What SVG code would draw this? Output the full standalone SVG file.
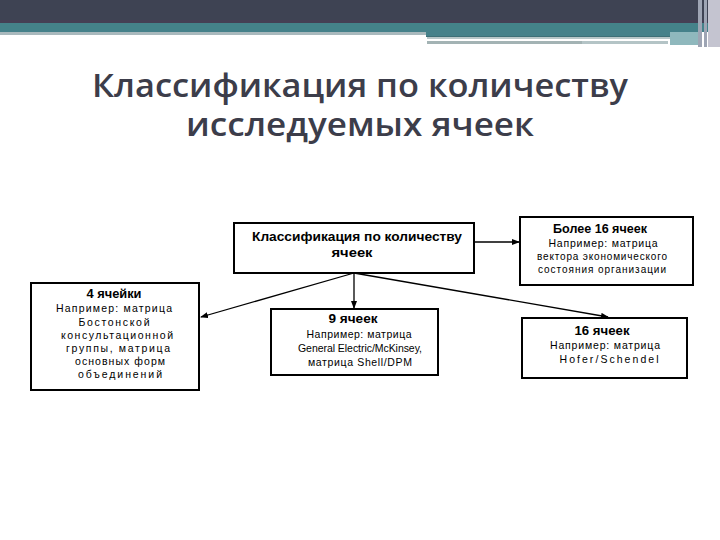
<svg xmlns="http://www.w3.org/2000/svg" width="720" height="540" viewBox="0 0 720 540">
<style>
.box{fill:#fff;stroke:#000;stroke-width:2}
.t{font-family:"Liberation Sans",Arial,sans-serif;font-size:10.5px;fill:#000;text-anchor:middle}
.b{font-family:"Liberation Sans",Arial,sans-serif;font-size:12px;font-weight:bold;fill:#000;text-anchor:middle}
.title{font-family:"Open Sans","DejaVu Sans",sans-serif;font-size:32px;font-weight:600;fill:#3c3d4a;text-anchor:middle}
.c{stroke:#000;stroke-width:1.3;fill:none;marker-end:url(#ah)}
</style>
<defs>
<marker id="ah" markerWidth="8" markerHeight="6" refX="7" refY="3" orient="auto" markerUnits="userSpaceOnUse">
<path d="M0,0 L8,3 L0,6 z" fill="#000"/>
</marker>
</defs>
<rect width="720" height="540" fill="#fff"/>
<g id="header">
<rect x="0" y="0" width="720" height="23" fill="#3e4353"/>
<rect x="0" y="20" width="720" height="3" fill="#453f55"/>
<rect x="0" y="23" width="720" height="9" fill="#45818a"/>
<rect x="0" y="32" width="426" height="3" fill="#a9b9bd"/>
<rect x="426" y="32" width="274" height="4" fill="#45818a"/>
<rect x="426" y="36" width="245" height="1" fill="#3d6f77"/>
<rect x="427" y="37" width="243" height="2" fill="#b7c7c9"/>
<rect x="427" y="41" width="155" height="3" fill="#a3b3b4"/>
<rect x="582" y="41" width="86" height="3" fill="#b4c4c6"/>
<rect x="670" y="32" width="30" height="13" fill="#8fb8bd"/>
<rect x="698" y="0" width="4" height="47" fill="#9ea5b4"/>
<rect x="704" y="0" width="3" height="47" fill="#9ea5b4"/>
<rect x="708" y="0" width="12" height="47" fill="#c4c4d0"/>
</g>
<g id="title">
<text class="title" x="360" y="97" textLength="536" lengthAdjust="spacingAndGlyphs">Классификация по количеству</text>
<text class="title" x="360" y="136" textLength="348" lengthAdjust="spacingAndGlyphs">исследуемых ячеек</text>
</g>
<g id="connectors">
<line class="c" x1="474" y1="242" x2="519" y2="242"/>
<line class="c" x1="354" y1="273" x2="354" y2="308"/>
<line class="c" x1="354" y1="273" x2="201" y2="317"/>
<line class="c" x1="354" y1="273" x2="608" y2="317"/>
</g>
<g id="main">
<rect class="box" x="234" y="223" width="240" height="50"/>
<text class="b" x="357" y="241" textLength="210" lengthAdjust="spacingAndGlyphs">Классификация по количеству</text>
<text class="b" x="352" y="257" textLength="41" lengthAdjust="spacingAndGlyphs">ячеек</text>
</g>
<g id="more16">
<rect class="box" x="520" y="217" width="173" height="68"/>
<text class="b" x="600" y="233" textLength="94" lengthAdjust="spacingAndGlyphs">Более 16 ячеек</text>
<text class="t" x="603" y="247" textLength="109" lengthAdjust="spacing">Например: матрица</text>
<text class="t" x="602" y="260" textLength="130" lengthAdjust="spacing" style="font-size:10px">вектора экономического</text>
<text class="t" x="602" y="273" textLength="128" lengthAdjust="spacing" style="font-size:10px">состояния организации</text>
</g>
<g id="four">
<rect class="box" x="31" y="283" width="168" height="107"/>
<text class="b" x="114" y="298" textLength="55" lengthAdjust="spacingAndGlyphs">4 ячейки</text>
<text class="t" x="114" y="312" textLength="116" lengthAdjust="spacing">Например: матрица</text>
<text class="t" x="114" y="326" textLength="71" lengthAdjust="spacing">Бостонской</text>
<text class="t" x="117" y="339" textLength="112" lengthAdjust="spacing">консультационной</text>
<text class="t" x="118" y="352" textLength="104" lengthAdjust="spacing">группы, матрица</text>
<text class="t" x="120" y="365" textLength="90" lengthAdjust="spacing">основных форм</text>
<text class="t" x="120" y="378" textLength="84" lengthAdjust="spacing">объединений</text>
</g>
<g id="nine">
<rect class="box" x="271" y="309" width="167" height="66"/>
<text class="b" x="353" y="323" textLength="49" lengthAdjust="spacingAndGlyphs">9 ячеек</text>
<text class="t" x="359" y="338" textLength="105" lengthAdjust="spacing">Например: матрица</text>
<text class="t" x="360" y="352" textLength="124" lengthAdjust="spacing">General Electric/McKinsey,</text>
<text class="t" x="360" y="366" textLength="104" lengthAdjust="spacing">матрица Shell/DPM</text>
</g>
<g id="sixteen">
<rect class="box" x="522" y="318" width="165" height="60"/>
<text class="b" x="602" y="335" textLength="55" lengthAdjust="spacingAndGlyphs">16 ячеек</text>
<text class="t" x="605" y="349" textLength="110" lengthAdjust="spacing">Например: матрица</text>
<text class="t" x="609" y="363" textLength="99" lengthAdjust="spacing">Hofer/Schendel</text>
</g>
</svg>
